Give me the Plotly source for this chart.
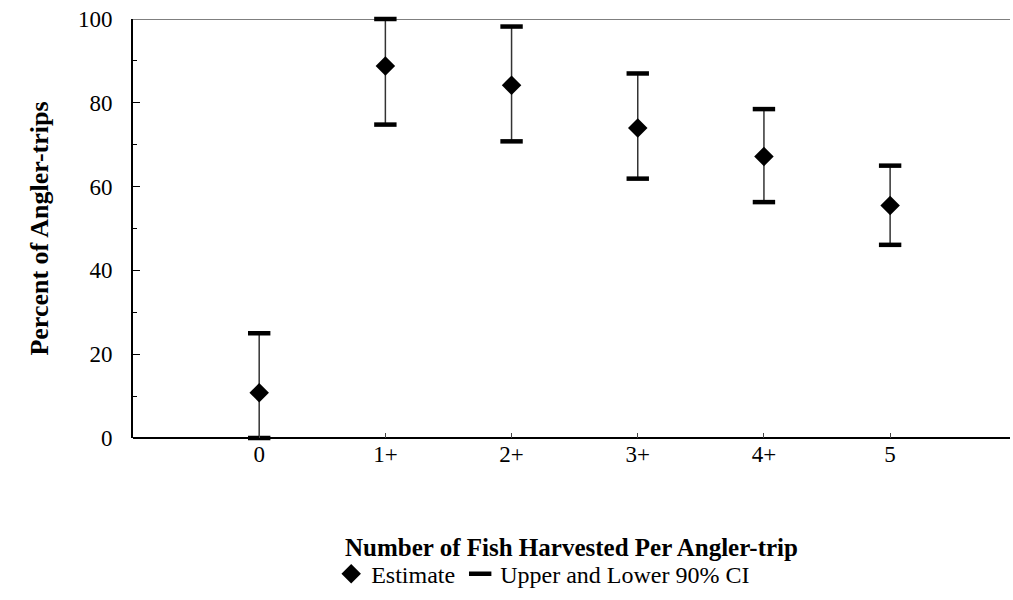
import plotly.graph_objects as go

# harvest categories and CI values (percent of angler-trips)
categories = ["0", "1+", "2+", "3+", "4+", "5"]
estimate = [10.8, 88.8, 84.2, 74.0, 67.2, 55.5]
upper_ci = [25.0, 100.0, 98.2, 87.0, 78.5, 65.0]
lower_ci = [0.0, 74.8, 70.8, 61.9, 56.3, 46.1]

x = list(range(len(categories)))
font = "Liberation Serif, Times New Roman, serif"

fig = go.Figure()

# vertical CI lines drawn as error bars without caps
fig.add_trace(go.Scatter(
    x=x, y=estimate, mode="markers", name="Estimate",
    marker=dict(symbol="diamond", size=15, color="black"),
    error_y=dict(type="data", symmetric=False,
                 array=[u - e for u, e in zip(upper_ci, estimate)],
                 arrayminus=[e - l for e, l in zip(estimate, lower_ci)],
                 width=0, thickness=1.5, color="#333"),
    cliponaxis=False,
))

# upper / lower CI caps
fig.add_trace(go.Scatter(
    x=x + x, y=upper_ci + lower_ci, mode="markers",
    name="Upper and Lower 90% CI",
    marker=dict(symbol="line-ew", size=16, color="black",
                line=dict(color="black", width=4.5)),
    cliponaxis=False,
))

# top border line at 100
fig.add_shape(type="line", xref="paper", yref="y", x0=0, x1=1, y0=100, y1=100,
              line=dict(color="#555", width=1.5), layer="below")

fig.update_layout(
    width=1013, height=600,
    margin=dict(l=133, r=3, t=19, b=157),
    plot_bgcolor="white", paper_bgcolor="white",
    font=dict(family=font, color="black", size=22),
    showlegend=True,
    legend=dict(orientation="h", x=0.226, xanchor="left", y=-0.325, yanchor="middle",
                font=dict(size=24), itemwidth=30, tracegroupgap=0),
    xaxis=dict(
        range=[-1, 5.95], tickvals=x, ticktext=categories,
        showgrid=False, zeroline=False,
        showline=False, ticks="inside", ticklen=5, tickcolor="#444",
        tickfont=dict(size=23),
        title=dict(text="<b>Number of Fish Harvested Per Angler-trip</b>",
                   font=dict(size=25), standoff=72),
    ),
    yaxis=dict(
        range=[0, 100], dtick=20, showgrid=False, zeroline=True,
        zerolinecolor="black", zerolinewidth=1.5,
        showline=True, linecolor="black", linewidth=2,
        ticks="inside", ticklen=7, tickcolor="black",
        minor=dict(dtick=10, ticks="inside", ticklen=4, tickcolor="black"),
        ticklabelstandoff=14,
        tickfont=dict(size=23),
        title=dict(text="<b>Percent of Angler-trips</b>", font=dict(size=26), standoff=22),
    ),
)

# drop the default 8px page margin so the figure sits at the window's corner
fig.write_html("out.html", config={"displayModeBar": False},
               post_script="document.body.style.margin='0px';")
